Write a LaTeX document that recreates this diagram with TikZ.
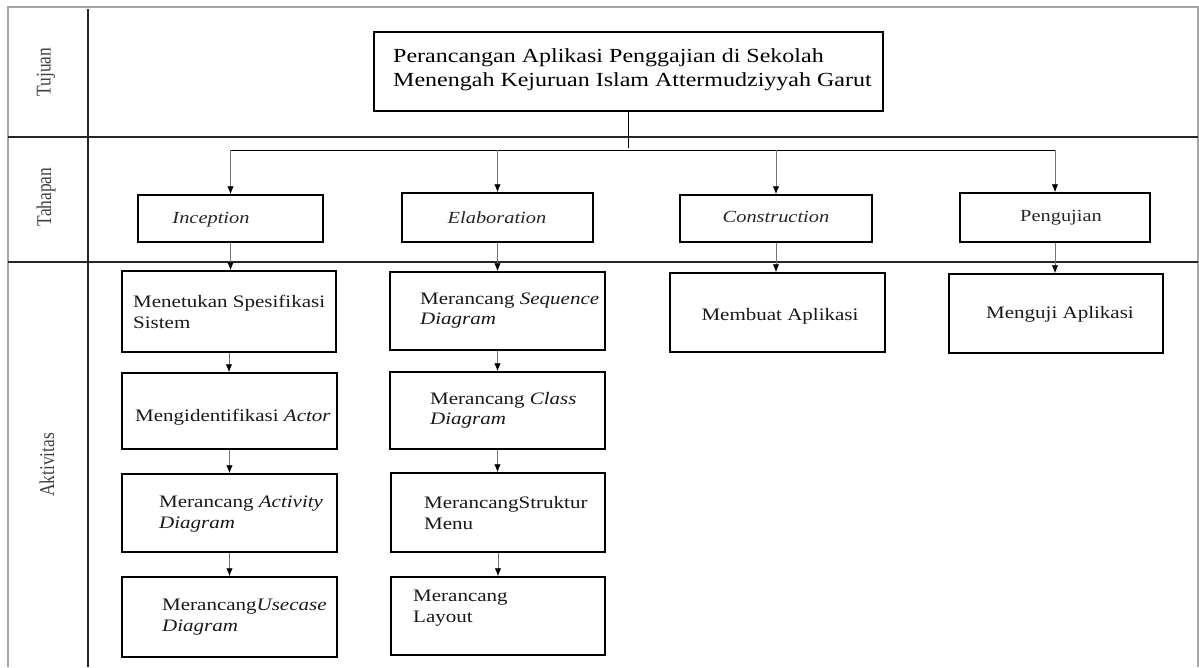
\documentclass[tikz,border=0pt]{standalone}
\usepackage{fontspec}
\setmainfont{Liberation Serif}[FakeStretch=1.2]
\newfontfamily\rotfont{Liberation Serif}[FakeStretch=0.83]
\usetikzlibrary{arrows.meta}
\tikzset{
  box/.style={draw=black, line width=1.5pt, fill=white, inner sep=0pt},
  txt/.style={text=black!90, inner sep=0pt, align=left, font=\fontsize{17.5}{20.5}\selectfont},
  stagetxt/.style={text=black!85, inner sep=0pt, font=\fontsize{17}{20}\selectfont},
  sidetxt/.style={text=black!75, inner sep=0pt, rotate=90, font=\rotfont\fontsize{21}{24}\selectfont},
  divider/.style={draw=black!85, line width=1.3pt},
  border/.style={draw=black!35, line width=1.2pt},
  branch/.style={draw=black, line width=1pt},
  arr/.style={draw=black!55, line width=0.9pt, -{Latex[length=8pt,width=6.5pt,color=black]}}
}
\begin{document}
\begin{tikzpicture}[x=1pt,y=-1pt]
\useasboundingbox (0,0) rectangle (1199,667);
% frame
\draw[border] (8,667) -- (8,7) -- (1198,7) -- (1198,667);
\draw[divider] (8,137) -- (1198,137);
\draw[divider] (8,262) -- (1198,262);
\draw[divider, line width=1.8pt] (88,9) -- (88,667);
% side labels
\node[sidetxt] (lt) at (46,72) {Tujuan};
\node[sidetxt] (lh) at (46,197) {Tahapan};
\node[sidetxt] (la) at (47,465) {Aktivitas};
% title
\node[box, minimum width=509, minimum height=79] (t) at (628.5,71.5) {};
\node[txt, anchor=west, text=black, font=\fontsize{20}{24}\selectfont] (tt) at (393,70)
  {Perancangan Aplikasi Penggajian di Sekolah\\Menengah Kejuruan Islam Attermudziyyah Garut};
% stages
\node[box, minimum width=185, minimum height=47] (s1) at (230.5,218.5) {};
\node[box, minimum width=191, minimum height=49] (s2) at (497.5,217.5) {};
\node[box, minimum width=192, minimum height=47] (s3) at (776,218.5) {};
\node[box, minimum width=190, minimum height=49] (s4) at (1055,217.5) {};
\node[stagetxt] (s1t) at (211,220) {\itshape Inception};
\node[stagetxt] (s2t) at (497,218) {\itshape Elaboration};
\node[stagetxt] (s3t) at (776,217) {\itshape Construction};
\node[stagetxt] (s4t) at (1061,218) {Pengujian};
% activities col 1
\node[box, minimum width=214, minimum height=81] (a11) at (229,311.5) {};
\node[box, minimum width=215, minimum height=76] (a12) at (229.5,411) {};
\node[box, minimum width=215, minimum height=78] (a13) at (229.5,513) {};
\node[box, minimum width=215, minimum height=80] (a14) at (229.5,617) {};
\node[txt, anchor=west] (a11t) at (133,312) {Menetukan Spesifikasi\\Sistem};
\node[txt, anchor=west] (a12t) at (135,417) {Mengidentifikasi \textit{Actor}};
\node[txt, anchor=west] (a13t) at (159,514) {Merancang \textit{Activity}\\\textit{Diagram}};
\node[txt, anchor=west] (a14t) at (162,617) {Merancang\textit{Usecase}\\\textit{Diagram}};
% activities col 2
\node[box, minimum width=215, minimum height=78] (a21) at (497.5,311) {};
\node[box, minimum width=215, minimum height=77] (a22) at (497.5,410.5) {};
\node[box, minimum width=214, minimum height=79] (a23) at (498,512.5) {};
\node[box, minimum width=214, minimum height=78] (a24) at (498,616) {};
\node[txt, anchor=west] (a21t) at (420,310.5) {Merancang \textit{Sequence}\\\textit{Diagram}};
\node[txt, anchor=west] (a22t) at (430,410.5) {Merancang \textit{Class}\\\textit{Diagram}};
\node[txt, anchor=west] (a23t) at (424,513) {MerancangStruktur\\Menu};
\node[txt, anchor=west] (a24t) at (413,608) {Merancang\\Layout};
% activities col 3, 4
\node[box, minimum width=215, minimum height=79] (a31) at (777.5,312.5) {};
\node[box, minimum width=214, minimum height=79] (a41) at (1056,313.5) {};
\node[txt] (a31t) at (780,316) {Membuat Aplikasi};
\node[txt] (a41t) at (1060,314) {Menguji Aplikasi};
% connectors
\coordinate (br) at (628.5,150);
\draw[branch] (t.south) -- ([yshift=2pt]br);
\draw[branch] (s1.north |- br) -- (s4.north |- br);
\foreach \s in {s1,s2,s3,s4} {
  \draw[arr] (\s.north |- br) -- (\s.north);
}
\draw[arr] (s1.south) -- (s1.south |- a11.north);
\draw[arr] (s2.south) -- (s2.south |- a21.north);
\draw[arr] (s3.south) -- (s3.south |- a31.north);
\draw[arr] (s4.south) -- (s4.south |- a41.north);
\draw[arr] (a11.south) -- (a11.south |- a12.north);
\draw[arr] (a12.south) -- (a12.south |- a13.north);
\draw[arr] (a13.south) -- (a13.south |- a14.north);
\draw[arr] (a21.south) -- (a21.south |- a22.north);
\draw[arr] (a22.south) -- (a22.south |- a23.north);
\draw[arr] (a23.south) -- (a23.south |- a24.north);
\end{tikzpicture}
\end{document}
